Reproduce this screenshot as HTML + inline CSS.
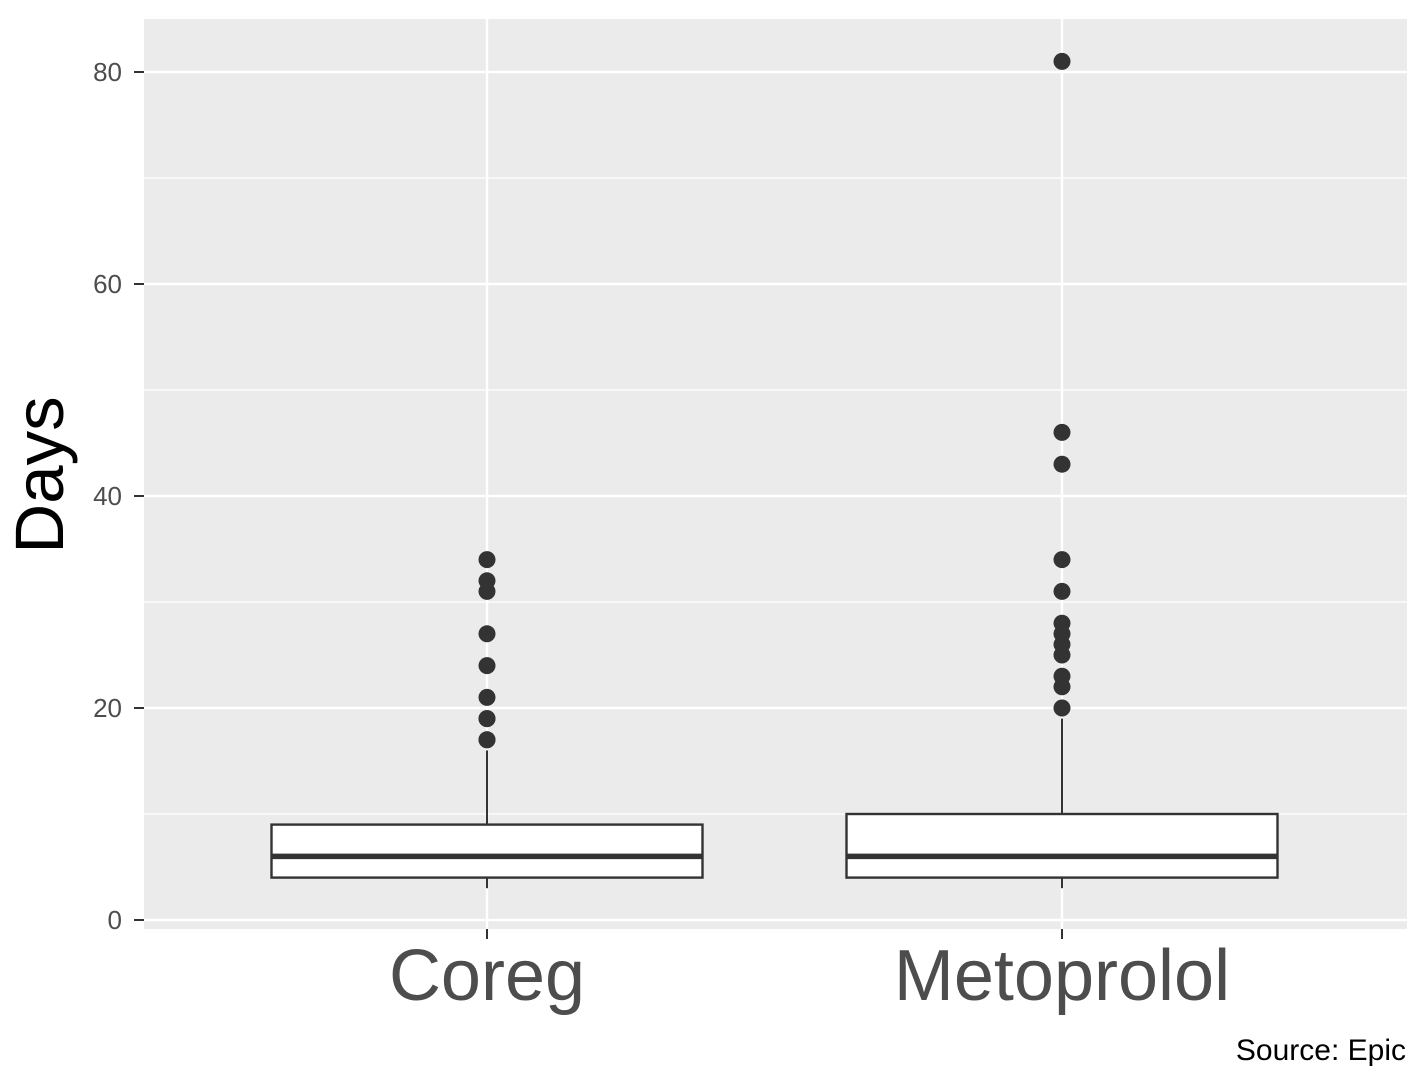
<!DOCTYPE html>
<html><head><meta charset="utf-8"><style>
html,body{margin:0;padding:0;background:#fff;}
svg{display:block;font-family:"Liberation Sans",Arial,sans-serif;}
</style></head><body>
<svg id="chart" width="1417" height="1081" viewBox="0 0 1417 1081" xmlns="http://www.w3.org/2000/svg">
<rect x="144" y="19" width="1263" height="910" fill="#ebebeb"/>
<g id="grid"></g>
<g id="axes"></g>
<g id="boxes"></g>
<text transform="translate(63,475) rotate(-90)" text-anchor="middle" font-size="69" fill="#000">Days</text>
<text x="1406" y="1060" text-anchor="end" font-size="30" fill="#000">Source: Epic</text>
</svg>
<script>
const categories = ["Coreg", "Metoprolol"];
const lowerWhisker = [3, 3];
const q1 = [4, 4];
const medians = [6, 6];
const q3 = [9, 10];
const upperWhisker = [16, 19];
const outliersCoreg = [17, 17, 19, 19, 21, 24, 27, 31, 32, 34];
const outliersMetoprolol = [20, 22, 23, 25, 26, 27, 28, 31, 34, 43, 46, 81];
const yTicks = [0, 20, 40, 60, 80];
const yMinor = [10, 30, 50, 70];

const NS = "http://www.w3.org/2000/svg";
const panelL = 144, panelR = 1407;
const y = v => 920 - v * 10.6;
const x = i => 487 + i * 575;
const halfW = 215.5;
function mk(tag, attrs, parent) {
  const e = document.createElementNS(NS, tag);
  for (const k in attrs) e.setAttribute(k, attrs[k]);
  parent.appendChild(e);
  return e;
}
const grid = document.getElementById("grid");
const axes = document.getElementById("axes");
const boxes = document.getElementById("boxes");
yMinor.forEach(v => {
  const l = mk("line", {x1: panelL, x2: panelR, y1: y(v), y2: y(v), stroke: "#fff", "stroke-width": 1.2}, grid);
  
  
});
yTicks.forEach(v => {
  const l = mk("line", {x1: panelL, x2: panelR, y1: y(v), y2: y(v), stroke: "#fff", "stroke-width": 2.4}, grid);
  
  
  const t = mk("line", {x1: 134, x2: 144, y1: y(v), y2: y(v), stroke: "#333", "stroke-width": 2}, axes);
  
  
  const tx = mk("text", {x: 122, y: y(v) + 9, "text-anchor": "end", "font-size": 26, fill: "#4d4d4d"}, axes);
  tx.textContent = v;
  
  
});
categories.forEach((c, i) => {
  const l = mk("line", {x1: x(i), x2: x(i), y1: 19, y2: 929, stroke: "#fff", "stroke-width": 2.4}, grid);
  
  
  const t = mk("line", {x1: x(i), x2: x(i), y1: 929, y2: 939, stroke: "#333", "stroke-width": 2}, axes);
  
  
  const tx = mk("text", {x: x(i), y: 1000, "text-anchor": "middle", "font-size": 72, fill: "#4d4d4d"}, axes);
  tx.textContent = c;
  
  
});
const outliers = [outliersCoreg, outliersMetoprolol];
categories.forEach((c, i) => {
  const g = mk("g", {}, boxes);
  
  
  const wu = mk("line", {x1: x(i), x2: x(i), y1: y(q3[i]), y2: y(upperWhisker[i]), stroke: "#333", "stroke-width": 2}, g);
  
  
  const wl = mk("line", {x1: x(i), x2: x(i), y1: y(q1[i]), y2: y(lowerWhisker[i]), stroke: "#333", "stroke-width": 2}, g);
  
  
  const r = mk("rect", {x: x(i) - halfW, y: y(q3[i]), width: halfW * 2, height: y(q1[i]) - y(q3[i]), fill: "#fff", stroke: "#333", "stroke-width": 2.4}, g);
  
  
  const m = mk("line", {x1: x(i) - halfW, x2: x(i) + halfW, y1: y(medians[i]), y2: y(medians[i]), stroke: "#333", "stroke-width": 5.5}, g);
  
  
  outliers[i].forEach(v => {
    const p = mk("circle", {cx: x(i), cy: y(v), r: 8.5, fill: "#333"}, g);
    
    
  });
});
</script>
</body></html>
